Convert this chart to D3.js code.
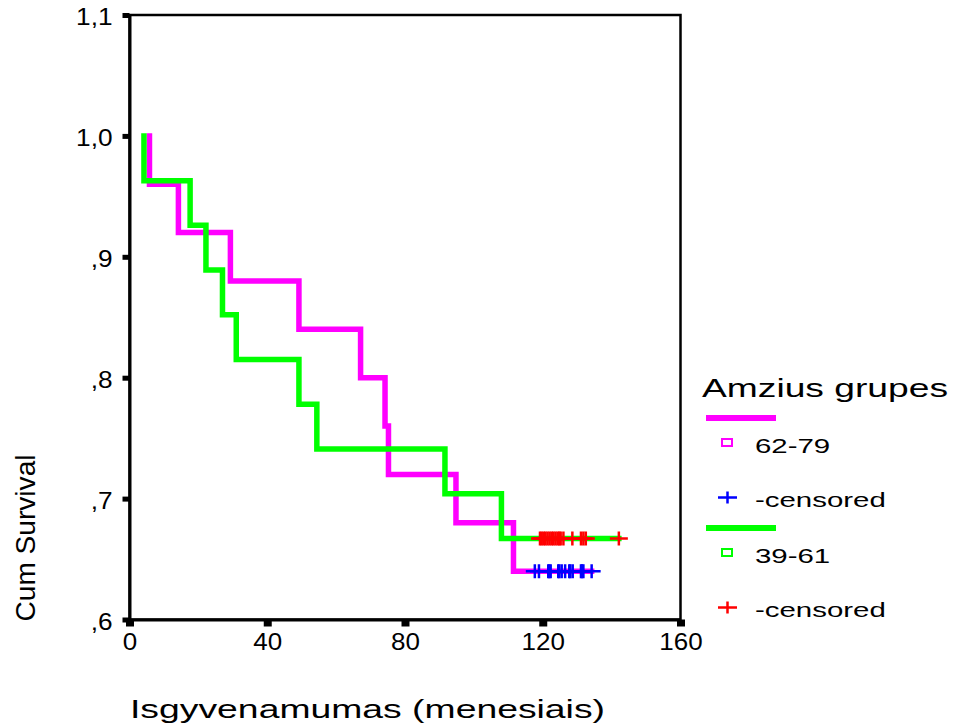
<!DOCTYPE html>
<html>
<head>
<meta charset="utf-8">
<script src="https://cdn.jsdelivr.net/npm/d3@7"></script>
<style>
  body { margin: 0; background: #fff; }
  text { font-family: Arial, "Liberation Sans", sans-serif; fill: #000; }
</style>
</head>
<body>
<svg id="chart" width="959" height="727"></svg>
<script>
// DATA
var groupNames = ['62-79', '39-61'];
var groupColors = ['#ff00ff', '#00ff00'];
var censorColors = ['#0000ff', '#ff0000'];

// event times (months) and survival after each event
var pinkTimes = [5.8, 14.2, 29.3, 49.2, 67.1, 74.2, 75.2, 94.8, 111.5];
var pinkSurv  = [0.96, 0.92, 0.88, 0.84, 0.80, 0.76, 0.72, 0.68, 0.64];
var pinkCensored = [117.7, 118.9, 121.6, 121.9, 122.3, 124.5, 124.8, 125.5, 126.5, 127.7, 128.0, 128.7, 131.1, 131.4, 131.8, 134.2];

var greenTimes = [4.2, 17.6, 22.2, 27.0, 31.0, 49.2, 54.4, 91.6, 108.0];
var greenSurv  = [0.963, 0.926, 0.889, 0.852, 0.815, 0.778, 0.741, 0.704, 0.667];
var greenCensored = [119.2, 119.7, 120.3, 120.8, 121.4, 122.0, 122.6, 123.1, 123.7, 124.3, 124.8, 125.2, 126.0, 128.6, 131.1, 131.8, 132.5, 142.1];

var xTicks = [0, 40, 80, 120, 160];
var yTicks = [0.6, 0.7, 0.8, 0.9, 1.0, 1.1];
var yTickLabels = [',6', ',7', ',8', ',9', '1,0', '1,1'];

var legendTitle = 'Amzius grupes';
var censoredLabel = '-censored';
var xTitle = 'Isgyvenamumas (menesiais)';
var yTitle = 'Cum Survival';

//SCALES
var svg = d3.select('#chart');
var x = d3.scaleLinear().domain([0, 160]).range([129.5, 680.5]);
var y = d3.scaleLinear().domain([0.6, 1.1]).range([619.5, 15]);

// stretch text sideways like the original export
function widen(sel, k) {
	sel.each(function() {
		var w = this.getComputedTextLength();
		d3.select(this).attr('textLength', w * k).attr('lengthAdjust', 'spacingAndGlyphs');
	});
}

//FRAME
svg.append('rect')
	.attr('x', x(0)).attr('y', y(1.1))
	.attr('width', x(160) - x(0)).attr('height', y(0.6) - y(1.1))
	.attr('fill', 'none').attr('stroke', '#000').attr('stroke-width', 2.5);

//AXES
var yAxis = svg.append('g')
	.attr('transform', 'translate(' + x(0) + ',0)')
	.call(d3.axisLeft(y).tickValues(yTicks).tickSize(7).tickSizeOuter(0).tickPadding(10)
		.tickFormat(function(d, i) { return yTickLabels[i]; }));
yAxis.select('.domain').attr('stroke-width', 3);
yAxis.selectAll('.tick line').attr('stroke-width', 5);
yAxis.selectAll('.tick text')
	.attr('dy', '0.42em')
	.style('font-size', '23px')
	.attr('font-family', null);
widen(yAxis.selectAll('.tick text'), 1.14);

var xAxis = svg.append('g')
	.attr('transform', 'translate(0,' + y(0.6) + ')')
	.call(d3.axisBottom(x).tickValues(xTicks).tickSize(7).tickSizeOuter(0).tickPadding(7));
xAxis.select('.domain').attr('stroke-width', 3);
xAxis.selectAll('.tick line').attr('stroke-width', 8);
xAxis.selectAll('.tick text').style('font-size', '23px').attr('font-family', null);
widen(xAxis.selectAll('.tick text'), 1.13);

//CURVES
var line = d3.line()
	.x(function(d) { return x(d[0]); })
	.y(function(d) { return y(d[1]); })
	.curve(d3.curveStepAfter);

function curvePoints(times, surv, cens) {
	var pts = [[times[0], 1.0]];
	for (var i = 0; i < times.length; i++) pts.push([times[i], surv[i]]);
	pts.push([d3.max(cens), surv[surv.length - 1]]);
	return pts;
}

function plus(g, cx, cy, hw, hh, col) {
	g.append('path')
		.attr('d', 'M' + (cx - hw) + ',' + cy + 'H' + (cx + hw) + 'M' + cx + ',' + (cy - hh) + 'V' + (cy + hh))
		.attr('stroke', col).attr('stroke-width', 2.5).attr('fill', 'none');
}

var groups = [
	{ times: pinkTimes, surv: pinkSurv, cens: pinkCensored },
	{ times: greenTimes, surv: greenSurv, cens: greenCensored }
];

groups.forEach(function(gr, k) {
	svg.append('path')
		.datum(curvePoints(gr.times, gr.surv, gr.cens))
		.attr('d', line)
		.attr('fill', 'none')
		.attr('stroke', groupColors[k])
		.attr('stroke-width', 5.5)
		.attr('stroke-linejoin', 'miter')
		.attr('stroke-linecap', 'square');
	var last = gr.surv[gr.surv.length - 1];
	var cg = svg.append('g');
	gr.cens.forEach(function(t) {
		plus(cg, x(t), y(last), 9, 7, censorColors[k]);
	});
});

//TITLES
var xt = svg.append('text')
	.attr('x', 130).attr('y', 718)
	.style('font-size', '26px')
	.text(xTitle);
xt.attr('textLength', 475).attr('lengthAdjust', 'spacingAndGlyphs');

svg.append('text')
	.attr('transform', 'translate(35,538) rotate(-90)')
	.attr('text-anchor', 'middle')
	.style('font-size', '28px')
	.attr('textLength', 167).attr('lengthAdjust', 'spacingAndGlyphs')
	.text(yTitle);

//LEGEND
var lg = svg.append('g');
var lt = lg.append('text').attr('x', 702).attr('y', 397).style('font-size', '26.5px').text(legendTitle);
lt.attr('textLength', 246).attr('lengthAdjust', 'spacingAndGlyphs');

var rowY = [418, 528];
groupNames.forEach(function(name, k) {
	var y0 = rowY[k];
	lg.append('line')
		.attr('x1', 706).attr('x2', 776).attr('y1', y0).attr('y2', y0)
		.attr('stroke', groupColors[k]).attr('stroke-width', 6);
	lg.append('rect')
		.attr('x', 722).attr('y', y0 + 21).attr('width', 10).attr('height', 7)
		.attr('fill', 'none').attr('stroke', groupColors[k]).attr('stroke-width', 2);
	var t1 = lg.append('text').attr('x', 755).attr('y', y0 + 35).style('font-size', '21px').text(name);
	widen(t1, 1.4);
	plus(lg, 727.5, y0 + 79.5, 9.5, 6, censorColors[k]);
	var t2 = lg.append('text').attr('x', 755).attr('y', y0 + 89).style('font-size', '21px').text(censoredLabel);
	widen(t2, 1.4);
});
</script>
</body>
</html>
